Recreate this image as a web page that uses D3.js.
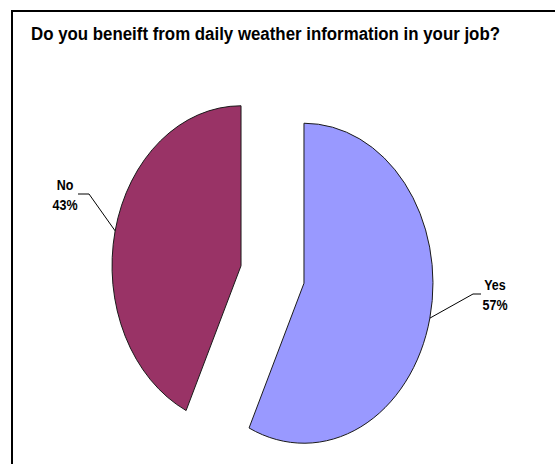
<!DOCTYPE html>
<html>
<head>
<meta charset="utf-8">
<script src="https://cdn.jsdelivr.net/npm/d3@7"></script>
<style>
  body { margin: 0; background: #fff; }
  svg { display: block; }
</style>
</head>
<body>
<div id="chart"></div>
<script>
const titleText = 'Do you beneift from daily weather information in your job?'
const categories = ['Yes', 'No']
const shares = [57, 43]
const colors = ['#9999ff', '#993366']

const W = 555, H = 464
const svg = d3.select('#chart').append('svg')
    .attr('width', W)
    .attr('height', H)

// chart area frame (runs off the right and bottom of the picture)
svg.append('rect')
    .attr('x', 12).attr('y', 11)
    .attr('width', 600).attr('height', 500)
    .attr('fill', 'none')
    .attr('stroke', '#000')
    .attr('stroke-width', 2)

// the whole picture is stretched vertically, so the pie is an ellipse
const stretch = 1.24
const cx = 272.5, cy = 274.5
const rx = 129, ry = 160
const explode = 0.25
const R = 100

const data = categories.map((c, i) => ({ name: c, value: shares[i], color: colors[i] }))
const pie = d3.pie().sort(null).value(d => d.value)
const arcs = pie(data)
const arc = d3.arc().innerRadius(0).outerRadius(R)

const sx = d3.scaleLinear().domain([-1, 1]).range([-rx, rx])
const sy = d3.scaleLinear().domain([-1, 1]).range([-ry, ry])

function sliceCenter(a) {
    const mid = (a.startAngle + a.endAngle) / 2
    return [cx + sx(explode * Math.sin(mid)), cy + sy(-explode * Math.cos(mid))]
}

const gPie = svg.append('g').attr('class', 'g_pie')
gPie.selectAll('path.slice').data(arcs)
    .join('path')
    .attr('class', 'slice')
    .attr('transform', d => {
        const c = sliceCenter(d)
        return `translate(${c[0]},${c[1]}) scale(${rx / R},${ry / R})`
    })
    .attr('d', arc)
    .attr('fill', d => d.data.color)
    .attr('stroke', '#1a1a1a')
    .attr('stroke-width', 1)
    .attr('vector-effect', 'non-scaling-stroke')

// labels with leader lines
const labelPos = { Yes: [495, 290], No: [65, 190] }
const elbow = { Yes: [[481, 294], [473, 294]], No: [[78, 194], [89, 194]] }

const gLab = svg.append('g').attr('class', 'g_labels')
arcs.forEach(a => {
    const mid = (a.startAngle + a.endAngle) / 2
    const c = sliceCenter(a)
    const edge = [c[0] + sx(Math.sin(mid)), c[1] + sy(-Math.cos(mid))]
    const pts = elbow[a.data.name].concat([edge])
    gLab.append('path')
        .attr('d', d3.line()(pts))
        .attr('fill', 'none')
        .attr('stroke', '#000')
        .attr('stroke-width', 1)

    const p = labelPos[a.data.name]
    const t = gLab.append('text')
        .attr('transform', `translate(${p[0]},${p[1]}) scale(1,${stretch})`)
        .attr('text-anchor', 'middle')
        .style('font-family', 'Liberation Sans, Arial, sans-serif')
        .style('font-weight', '700')
        .style('font-size', '12.5px')
    t.append('tspan').attr('x', 0).attr('y', 0).text(a.data.name)
    t.append('tspan').attr('x', 0).attr('y', 16.5).text(a.data.value + '%')
})

svg.append('text')
    .attr('transform', `translate(31,40) scale(1,${stretch})`)
    .attr('textLength', 469)
    .attr('lengthAdjust', 'spacingAndGlyphs')
    .style('font-family', 'Liberation Sans, Arial, sans-serif')
    .style('font-weight', '700')
    .style('font-size', '14.5px')
    .text(titleText)
</script>
</body>
</html>
